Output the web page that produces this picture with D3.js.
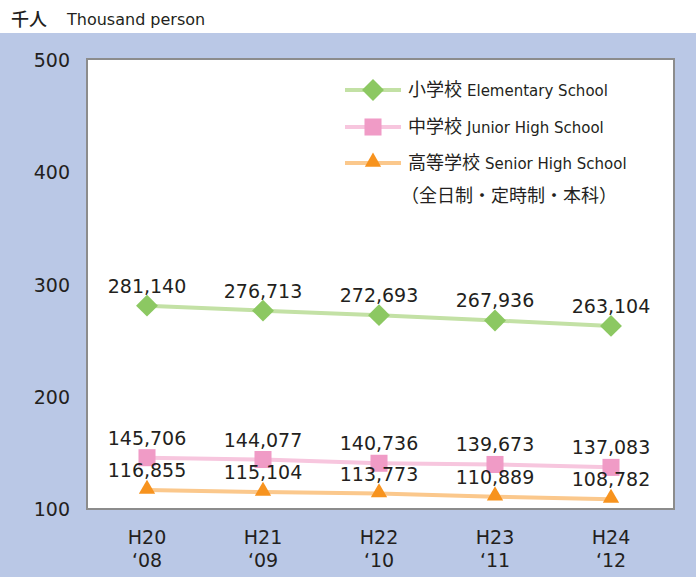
<!DOCTYPE html>
<html lang="ja">
<head>
<meta charset="utf-8">
<title>students</title>
<script src="https://cdn.jsdelivr.net/npm/d3@7"></script>
<style>
  body { margin: 0; }
  text { font-family: "DejaVu Sans", "Noto Sans CJK JP", sans-serif; fill: #231f20; }
  .jp { font-family: "Noto Sans CJK JP", sans-serif; }
</style>
</head>
<body>
<div id="chart"></div>
<script>
// data (thousand persons)
var years = ["H20", "H21", "H22", "H23", "H24"];
var yearsWestern = ["\u201808", "\u201809", "\u201810", "\u201811", "\u201812"];
var elementary = [281.140, 276.713, 272.693, 267.936, 263.104];
var junior = [145.706, 144.077, 140.736, 139.673, 137.083];
var senior = [116.855, 115.104, 113.773, 110.889, 108.782];
var yTicks = [100, 200, 300, 400, 500];

// marker shapes: rotated square = diamond
var series = [
  { jp: "小学校", en: "Elementary School", values: elementary, line: "#c3e1a5", mark: "#8cc862", shape: d3.symbolSquare, size: 240, rot: 45, dy: 0 },
  { jp: "中学校", en: "Junior High School", values: junior, line: "#f7c6de", mark: "#f09bc6", shape: d3.symbolSquare, size: 290, rot: 0, dy: 0 },
  { jp: "高等学校", en: "Senior High School", values: senior, line: "#fbc88c", mark: "#f7931e", shape: d3.symbolTriangle, size: 115, rot: 0, dy: -1 }
];

var W = 696, H = 577;
var plot = { left: 87, right: 674, top: 59, bottom: 509 };

var svg = d3.select("#chart").append("svg")
  .attr("width", W).attr("height", H);

// blue panel
svg.append("rect")
  .attr("x", 0).attr("y", 33).attr("width", W).attr("height", H - 33)
  .attr("fill", "#bac8e6");

// title
svg.append("text").attr("class", "jp")
  .attr("x", 11).attr("y", 26)
  .style("font-size", "18px").style("font-weight", 500)
  .text("千人");
svg.append("text")
  .attr("x", 67).attr("y", 25)
  .style("font-size", "16px")
  .text("Thousand person");

// plot area
svg.append("rect")
  .attr("x", plot.left).attr("y", plot.top)
  .attr("width", plot.right - plot.left).attr("height", plot.bottom - plot.top)
  .attr("fill", "#fff").attr("stroke", "#8c8c8c").attr("stroke-width", 2);

var x = d3.scalePoint().domain(years).range([147, 611]);
var y = d3.scaleLinear().domain([100, 500]).range([plot.bottom, plot.top + 1]);

// y tick labels
svg.selectAll(".ytick").data(yTicks).enter().append("text")
  .attr("class", "ytick")
  .attr("x", 70).attr("y", function(d) { return y(d) + 7; })
  .attr("text-anchor", "end")
  .style("font-size", "19px")
  .text(function(d) { return d; });

// x tick labels
var xt = svg.selectAll(".xtick").data(years).enter().append("g").attr("class", "xtick");
xt.append("text")
  .attr("x", function(d) { return x(d); }).attr("y", 544)
  .attr("text-anchor", "middle").style("font-size", "19px")
  .text(function(d) { return d; });
xt.append("text")
  .attr("x", function(d) { return x(d); }).attr("y", 567)
  .attr("text-anchor", "middle").style("font-size", "19px")
  .text(function(d, i) { return yearsWestern[i]; });

var line = d3.line()
  .x(function(d, i) { return x(years[i]); })
  .y(function(d) { return y(d); });

var fmt = d3.format(",");

series.forEach(function(s) {
  svg.append("path")
    .attr("d", line(s.values))
    .attr("fill", "none").attr("stroke", s.line).attr("stroke-width", 4);

  svg.selectAll(null).data(s.values).enter().append("path")
    .attr("d", d3.symbol().type(s.shape).size(s.size))
    .attr("transform", function(d, i) {
      return "translate(" + x(years[i]) + "," + (y(d) + s.dy) + ") rotate(" + s.rot + ")";
    })
    .attr("fill", s.mark);

  svg.selectAll(null).data(s.values).enter().append("text")
    .attr("x", function(d, i) { return x(years[i]); })
    .attr("y", function(d) { return y(d) - 13; })
    .attr("text-anchor", "middle").style("font-size", "19px")
    .text(function(d) { return fmt(Math.round(d * 1000)); });
});

// legend
var legendY = [90, 127, 163];
series.forEach(function(s, i) {
  var g = svg.append("g").attr("transform", "translate(0," + legendY[i] + ")");
  g.append("line").attr("x1", 345).attr("x2", 401).attr("y1", 0).attr("y2", 0)
    .attr("stroke", s.line).attr("stroke-width", 4);
  g.append("path").attr("d", d3.symbol().type(s.shape).size(s.size))
    .attr("transform", "translate(373," + s.dy + ") rotate(" + s.rot + ")")
    .attr("fill", s.mark);
  var t = g.append("text").attr("x", 408).attr("y", 6).style("font-size", "15px");
  t.append("tspan").attr("class", "jp").style("font-size", "18px").text(s.jp);
  t.append("tspan").attr("dx", 5).text(s.en);
});
svg.append("text").attr("class", "jp")
  .attr("x", 401).attr("y", 202).style("font-size", "18px")
  .text("（全日制・定時制・本科）");
</script>
</body>
</html>
